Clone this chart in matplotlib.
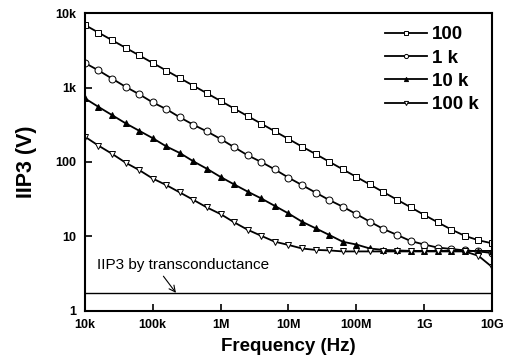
import numpy as np
import matplotlib
matplotlib.use("Agg")
import matplotlib.pyplot as plt

plt.rcParams['font.family'] = ['Liberation Sans', 'DejaVu Sans']

# frequency points: 10k .. 10G, 5 per decade
freq_exp = [4.0, 4.2, 4.4, 4.6, 4.8, 5.0, 5.2, 5.4, 5.6, 5.8,
            6.0, 6.2, 6.4, 6.6, 6.8, 7.0, 7.2, 7.4, 7.6, 7.8,
            8.0, 8.2, 8.4, 8.6, 8.8, 9.0, 9.2, 9.4, 9.6, 9.8, 10.0]

s_100 = [6918, 5470, 4325, 3420, 2704, 2138, 1690, 1337, 1057, 836,
         661, 522, 413, 327, 258, 204, 161, 128, 101, 79.8,
         63.1, 49.9, 39.4, 31.2, 24.7, 19.5, 15.5, 12.4, 10.2, 8.9, 8.1]
s_1k = [2138, 1698, 1318, 1023, 813, 631, 513, 398, 316, 257,
        204, 158, 123, 100, 79.4, 61.7, 49.0, 38.9, 30.9, 25.1,
        20.0, 15.8, 12.6, 10.5, 8.7, 7.8, 7.1, 6.8, 6.5, 6.3, 6.0]
s_10k = [716, 550, 427, 331, 263, 209, 162, 132, 102, 81,
         63, 50, 40, 32.4, 25.7, 20.4, 15.8, 12.9, 10.5, 8.5,
         7.8, 6.9, 6.6, 6.5, 6.4, 6.4, 6.4, 6.4, 6.4, 6.4, 6.4]
s_100k = [219, 166, 129, 98, 78, 60, 49, 39, 31, 24.5,
          20, 15.5, 12.3, 10.2, 8.5, 7.7, 6.9, 6.6, 6.5, 6.3,
          6.3, 6.3, 6.3, 6.3, 6.3, 6.3, 6.3, 6.3, 6.3, 5.5, 3.9]

series_labels = ['100', '1 k', '10 k', '100 k']
iip3_gm = 1.75

x_ticks = [1e4, 1e5, 1e6, 1e7, 1e8, 1e9, 1e10]
x_ticklabels = ['10k', '100k', '1M', '10M', '100M', '1G', '10G']
y_ticks = [1, 10, 100, 1000, 10000]
y_ticklabels = ['1', '10', '100', '1k', '10k']

freq = [10 ** e for e in freq_exp]

fig = plt.figure(figsize=(5.08, 3.62), dpi=100)
ax = fig.add_axes([0.167, 0.141, 0.8015, 0.823])

styles = [
    dict(marker='s', mfc='white'),
    dict(marker='o', mfc='white'),
    dict(marker='^', mfc='black'),
    dict(marker='v', mfc='white'),
]
for data, lab, st in zip([s_100, s_1k, s_10k, s_100k], series_labels, styles):
    ax.plot(freq, data, color='black', lw=1.3, marker=st['marker'],
            mfc=st['mfc'], mec='black', mew=0.7, ms=5, label=lab)

ax.axhline(iip3_gm, color='black', lw=1.0)
ax.annotate('IIP3 by transconductance', xy=(2.2e5, iip3_gm),
            xytext=(1.5e4, 4.1), fontsize=11, va='center', ha='left',
            arrowprops=dict(arrowstyle='->', color='black', lw=0.8,
                            shrinkA=1, shrinkB=0, relpos=(0.37, 0.0)))

ax.set_xscale('log')
ax.set_yscale('log')
ax.set_xlim(1e4, 1e10)
ax.set_ylim(1, 1e4)
ax.set_xticks(x_ticks)
ax.set_xticklabels(x_ticklabels)
ax.set_yticks(y_ticks)
ax.set_yticklabels(y_ticklabels)
ax.minorticks_off()
ax.tick_params(direction='in', length=5, width=1.2, labelsize=9)
ax.tick_params(axis='x', pad=6)
ax.tick_params(axis='y', pad=6)
for lbl in ax.get_xticklabels() + ax.get_yticklabels():
    lbl.set_fontweight('bold')
for sp in ax.spines.values():
    sp.set_linewidth(1.5)

ax.set_xlabel('Frequency (Hz)', fontsize=13.5, fontweight='bold', labelpad=5)
ax.set_ylabel('IIP3 (V)', fontsize=15.5, fontweight='bold', labelpad=13)

leg = ax.legend(loc='upper right', frameon=False, fontsize=13.5,
                handlelength=2.25, markerscale=0.6, labelspacing=0.33,
                handletextpad=0.27, borderaxespad=0.3)
for t in leg.get_texts():
    t.set_fontweight('bold')

fig.savefig('out.png', dpi=100)
